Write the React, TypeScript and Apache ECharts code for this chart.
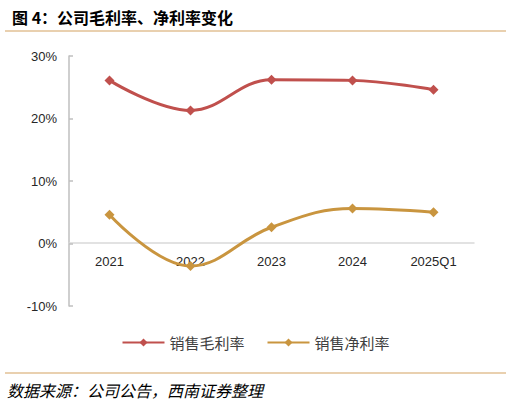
import * as echarts from 'echarts';
import { useEffect, useRef } from 'react';

const categories = ['2021', '2022', '2023', '2024', '2025Q1'];
const grossMargin = [26.1, 21.3, 26.2, 26.1, 24.6];
const netMargin = [4.6, -3.6, 2.6, 5.6, 5.0];
const seriesNames = ['销售毛利率', '销售净利率'];
const titleText = '图 4：公司毛利率、净利率变化';
const sourceText = '数据来源：公司公告，西南证券整理';

const colors = ['#C0504D', '#C9953F'];
const cjkFont = '"Noto Sans CJK SC", sans-serif';
const latinFont = '"Liberation Sans", Arial, sans-serif';

const App: React.FC = () => {
  const chartRef = useRef<HTMLDivElement | null>(null);

  useEffect(() => {
    if (!chartRef.current) return;
    const chart = echarts.init(chartRef.current, null, { renderer: 'svg' });

    const lineSeries = (name: string, data: number[], color: string) => ({
      type: 'line' as const,
      name,
      data,
      smooth: 0.4,
      symbol: 'diamond',
      symbolSize: 10,
      lineStyle: { width: 3, color },
      itemStyle: { color }
    });

    const option: echarts.EChartsOption = {
      animation: false,
      backgroundColor: '#ffffff',
      title: {
        text: titleText,
        left: 7,
        top: 4,
        textStyle: {
          fontFamily: cjkFont,
          fontSize: 16,
          fontWeight: 'bold',
          color: '#000000'
        }
      },
      grid: { left: 69, right: 37, top: 56, bottom: 100 },
      xAxis: {
        type: 'category',
        data: categories,
        offset: -63,
        axisLine: { onZero: false, lineStyle: { color: '#D9D9D9', width: 1.5 } },
        axisTick: { show: false },
        axisLabel: {
          margin: 12,
          fontSize: 13,
          fontFamily: latinFont,
          color: '#262626'
        }
      },
      yAxis: {
        type: 'value',
        min: -10,
        max: 30,
        interval: 10,
        axisLine: { show: true, lineStyle: { color: '#BFBFBF', width: 1.5 } },
        axisTick: { show: true, inside: true, length: 4, lineStyle: { color: '#BFBFBF', width: 1.5 } },
        splitLine: { show: false },
        axisLabel: {
          formatter: '{value}%',
          margin: 12,
          fontSize: 13,
          fontFamily: latinFont,
          color: '#262626'
        }
      },
      legend: {
        left: 'center',
        top: 330,
        itemWidth: 42,
        itemHeight: 10,
        itemGap: 22,
        data: seriesNames,
        textStyle: {
          fontFamily: cjkFont,
          fontSize: 15,
          color: '#404040'
        }
      },
      graphic: [
        {
          type: 'line',
          shape: { x1: 5, y1: 31, x2: 506, y2: 31 },
          style: { stroke: '#D4A160', lineWidth: 1.2 }
        },
        {
          type: 'line',
          shape: { x1: 5, y1: 373, x2: 506, y2: 373 },
          style: { stroke: '#D4A160', lineWidth: 1.2 }
        },
        {
          type: 'text',
          left: 7,
          top: 382,
          style: {
            text: sourceText,
            font: `italic 16px ${cjkFont}`,
            fill: '#000000'
          }
        }
      ],
      series: [
        lineSeries(seriesNames[0], grossMargin, colors[0]),
        lineSeries(seriesNames[1], netMargin, colors[1])
      ]
    };

    chart.setOption(option);

    return () => {
      chart.dispose();
    };
  }, []);

  return (
    <div
      ref={chartRef}
      style={{ position: 'fixed', left: 0, top: 0, width: 511, height: 406 }}
    />
  );
};

export default App;
